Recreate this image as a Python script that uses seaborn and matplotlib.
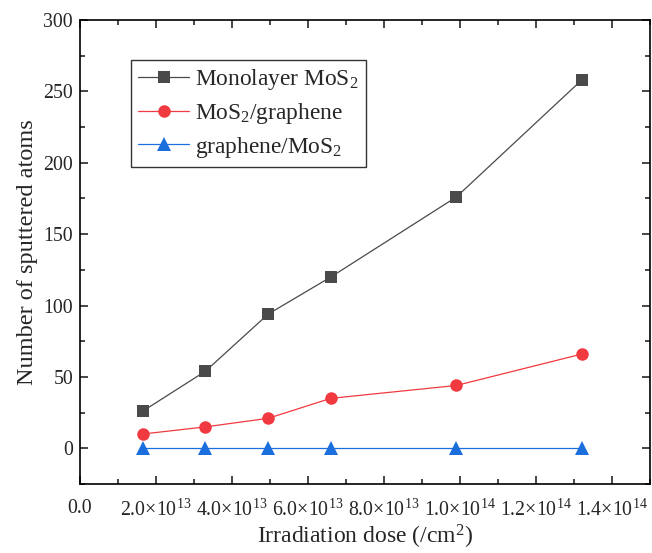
import numpy as np
import pandas as pd
import matplotlib
matplotlib.use("Agg")
import matplotlib.pyplot as plt
import seaborn as sns
from matplotlib.ticker import FixedLocator, AutoMinorLocator

dose = [1.65e13, 3.3e13, 4.95e13, 6.6e13, 9.9e13, 1.32e14]
monolayer = [26, 54, 94, 120, 176, 258]
mos2_gr = [10, 15, 21, 35, 44, 66]
gr_mos2 = [0, 0, 0, 0, 0, 0]
series_names = ["Monolayer MoS$_2$", "MoS$_2$/graphene", "graphene/MoS$_2$"]
x_ticks = [0, 2e13, 4e13, 6e13, 8e13, 1e14, 1.2e14, 1.4e14]
x_labels = ["0.0", "2.0×10$^{13}$", "4.0×10$^{13}$", "6.0×10$^{13}$", "8.0×10$^{13}$",
            "1.0×10$^{14}$", "1.2×10$^{14}$", "1.4×10$^{14}$"]
y_ticks = [0, 50, 100, 150, 200, 250, 300]

sns.set_style("ticks")
plt.rcParams['font.family'] = ['Liberation Serif', 'DejaVu Serif']
plt.rcParams['mathtext.fontset'] = 'custom'
plt.rcParams['mathtext.rm'] = 'Liberation Serif'
plt.rcParams['mathtext.it'] = 'Liberation Serif:italic'

fig = plt.figure(figsize=(6.52, 5.53), dpi=100)
ax = fig.add_axes([0.1227, 0.1248, 0.8745, 0.8390])

styles = [("#4a4a4a", "s", 8.5), ("#f03a40", "o", 9), ("#1a6fdc", "^", 9.5)]
for vals, name, (c, m, ms) in zip([monolayer, mos2_gr, gr_mos2], series_names, styles):
    df = pd.DataFrame({"dose": dose, "val": vals})
    sns.lineplot(data=df, x="dose", y="val", ax=ax, color=c, marker=m, markersize=ms,
                 markeredgewidth=0, linewidth=0.9, label=name)

ax.set_xlim(0, 1.5e14)
ax.set_ylim(-25, 300)
ax.xaxis.set_major_locator(FixedLocator(x_ticks))
ax.set_xticklabels(x_labels)
ax.set_yticks(y_ticks)
ax.xaxis.set_minor_locator(AutoMinorLocator(2))
ax.yaxis.set_minor_locator(AutoMinorLocator(2))
ax.tick_params(which='both', direction='in', top=True, right=True, labelsize=14.3, width=1.2)
ax.tick_params(which='major', length=6)
ax.tick_params(which='minor', length=3.5)
ax.tick_params(axis='x', pad=11)
ax.tick_params(axis='y', pad=5)
for s in ax.spines.values():
    s.set_linewidth(1.2)
    s.set_color('black')

ax.set_xlabel("Irradiation dose (/cm$^2$)", fontsize=17, labelpad=2)
ax.set_ylabel("Number of sputtered atoms", fontsize=17.5, labelpad=4)

leg = ax.legend(loc='upper left', bbox_to_anchor=(0.0895, 0.914), fontsize=16.8,
                frameon=True, fancybox=False, edgecolor='black', handlelength=2.2,
                borderpad=0.3, labelspacing=0.38, handletextpad=0.25, borderaxespad=0)
leg.get_frame().set_linewidth(1.0)

fig.savefig("out.png", dpi=100)
